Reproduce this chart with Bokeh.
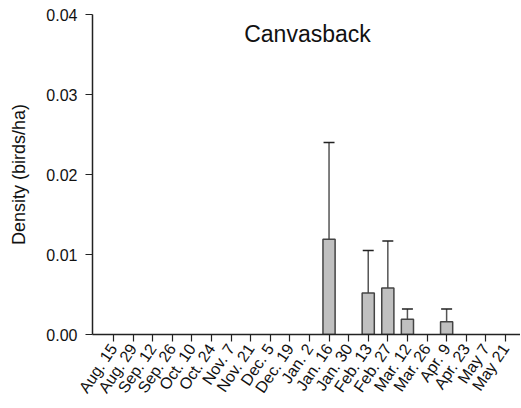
import math
from bokeh.plotting import figure
from bokeh.models import Label, FixedTicker, Range1d
from bokeh.embed import file_html
from bokeh.resources import INLINE

dates = ["Aug. 15", "Aug. 29", "Sep. 12", "Sep. 26", "Oct. 10", "Oct. 24", "Nov. 7",
         "Nov. 21", "Dec. 5", "Dec. 19", "Jan. 2", "Jan. 16", "Jan. 30", "Feb. 13",
         "Feb. 27", "Mar. 12", "Mar. 26", "Apr. 9", "Apr. 23", "May 7", "May 21"]
density = [0, 0, 0, 0, 0, 0, 0, 0, 0, 0, 0, 0.0119, 0, 0.0052, 0.0058, 0.0019, 0, 0.0016, 0, 0, 0]
err_upper = [0, 0, 0, 0, 0, 0, 0, 0, 0, 0, 0, 0.0240, 0, 0.0105, 0.0117, 0.0032, 0, 0.0032, 0, 0, 0]
y_ticks = [0.0, 0.01, 0.02, 0.03, 0.04]

xs = list(range(len(dates)))

p = figure(width=520, height=406, output_backend="svg", toolbar_location=None,
           x_range=Range1d(-1.07, 20.77), y_range=Range1d(0, 0.04),
           min_border_left=92, min_border_top=14, min_border_right=0, min_border_bottom=0)
p.frame_width = 428
p.frame_height = 320
p.outline_line_color = None
p.grid.visible = False
p.background_fill_color = "white"

bx = [x for x, v in zip(xs, density) if v > 0]
bv = [v for v in density if v > 0]
bu = [u for u, v in zip(err_upper, density) if v > 0]

p.segment(x0=bx, y0=bv, x1=bx, y1=bu, line_color="#555555", line_width=1.5)
p.segment(x0=[x - 0.28 for x in bx], y0=bu, x1=[x + 0.28 for x in bx], y1=bu,
          line_color="#222222", line_width=1.5)
p.vbar(x=bx, top=bv, width=0.62, bottom=0, fill_color="#c0c0c0", line_color="#444444",
       line_width=1.5)

p.xaxis.ticker = FixedTicker(ticks=xs)
p.xaxis.major_label_overrides = {i: d for i, d in enumerate(dates)}
p.xaxis.major_label_orientation = math.radians(56)
p.yaxis.ticker = FixedTicker(ticks=y_ticks)
p.yaxis.major_label_overrides = {t: f"{t:.2f}" for t in y_ticks}
p.yaxis.axis_label = "Density (birds/ha)"

for ax in (p.xaxis[0], p.yaxis[0]):
    ax.axis_line_color = "#222222"
    ax.axis_line_width = 1.5
    ax.major_tick_line_color = "#222222"
    ax.major_tick_line_width = 1.2
    ax.major_tick_out = 7
    ax.major_tick_in = 0
    ax.minor_tick_line_color = None
    ax.major_label_text_font = "Liberation Sans"
    ax.major_label_text_font_size = "16px"
    ax.major_label_text_color = "#111111"
    ax.major_label_standoff = 4

p.yaxis.major_label_standoff = 8
p.yaxis.axis_label_text_font = "Liberation Sans"
p.yaxis.axis_label_text_font_size = "18px"
p.yaxis.axis_label_text_font_style = "normal"
p.yaxis.axis_label_text_color = "#111111"
p.yaxis.axis_label_standoff = 14

p.add_layout(Label(x=215, y=301, x_units="screen", y_units="screen", text="Canvasback",
                   text_align="center", text_baseline="middle", text_font="Liberation Sans",
                   text_font_size="23px", text_color="#111111"))

open("out.html", "w").write(file_html(p, INLINE))
